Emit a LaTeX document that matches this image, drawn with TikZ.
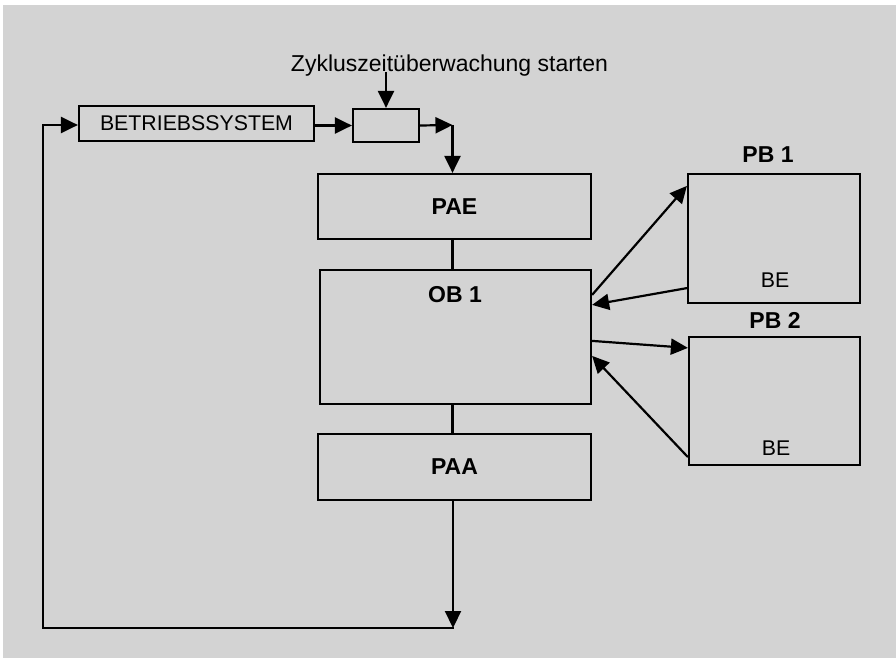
\documentclass[tikz,border=0pt]{standalone}
\usepackage{fontspec}
\setmainfont{Liberation Sans}
\usetikzlibrary{arrows.meta}
\definecolor{bggray}{RGB}{211,211,211}
\begin{document}
\begin{tikzpicture}[x=1pt,y=-1pt,
  box/.style={draw=black,line width=2.2pt,rectangle,inner sep=0pt,anchor=center},
  lbl/.style={font=\fontsize{21.3}{25}\selectfont,inner sep=0pt},
  blbl/.style={font=\fontsize{23}{27}\selectfont\bfseries,inner sep=0pt},
  conn/.style={line width=2.2pt},
  arr/.style={line width=2.2pt,-{Triangle[length=17pt,width=16pt]}}
]
\useasboundingbox (0,0) rectangle (896,658);
\fill[bggray] (3,5) rectangle (896,658);

% boxes
\node[box,minimum width=235pt,minimum height=35pt,lbl] (bs) at (196.5,123.5) {BETRIEBSSYSTEM};
\node[box,minimum width=66pt,minimum height=33pt] (zk) at (386,125.5) {};
\node[box,minimum width=273pt,minimum height=65pt,blbl] (pae) at (454.5,206.5) {PAE};
\node[box,minimum width=271pt,minimum height=134pt] (ob1) at (455.5,337) {};
\node[box,minimum width=273pt,minimum height=66pt,blbl] (paa) at (454.5,467) {PAA};
\node[box,minimum width=172pt,minimum height=129pt] (pb1) at (774,238.5) {};
\node[box,minimum width=171pt,minimum height=128pt] (pb2) at (774.5,401) {};

% labels
\node[lbl,anchor=base,font=\fontsize{23}{27}\selectfont] (zyk) at (449.5,72) {Zykluszeitüberwachung starten};
\node[blbl,anchor=base] (ob1l) at (455,302) {OB 1};
\node[blbl,anchor=base] (pb1l) at (768,162) {PB 1};
\node[blbl,anchor=base] (pb2l) at (775,328) {PB 2};
\node[lbl,anchor=base] (be1) at (775,287) {BE};
\node[lbl,anchor=base] (be2) at (776,455) {BE};

% coordinates for path corners
\coordinate (c1) at (452.5,125);
\coordinate (c2) at (453,628);
\coordinate (c3) at (43,628);
\coordinate (c4) at (43,125);

% main flow
\draw[arr] (zyk.south -| zk.north) ++(0,-5) -- (zk.north);
\draw[arr] (bs.east |- zk.west) -- (zk.west);
\draw[arr] (zk.east) -- (c1);
\draw[arr] (c1) -- (c1 |- pae.north);
\draw[conn] (pae.south -| c1) -- (ob1.north -| c1);
\draw[conn] (ob1.south -| c1) -- (paa.north -| c1);
\draw[arr] (paa.south -| c2) -- (c2);
\draw[conn,line cap=rect] (c2) -- (c3) -- (c4);
\draw[arr] (c4) -- (c4 -| bs.west);

% OB1 <-> PB arrows
\draw[arr] ([yshift=-26pt]ob1.north east) -- ([yshift=-13pt]pb1.north west);
\draw[arr] ([yshift=16pt]pb1.south west) -- ([yshift=-36pt]ob1.north east);
\draw[arr] ([yshift=-72pt]ob1.north east) -- ([yshift=-12pt]pb2.north west);
\draw[arr] ([yshift=9pt]pb2.south west) -- ([yshift=-87pt]ob1.north east);
\end{tikzpicture}
\end{document}
